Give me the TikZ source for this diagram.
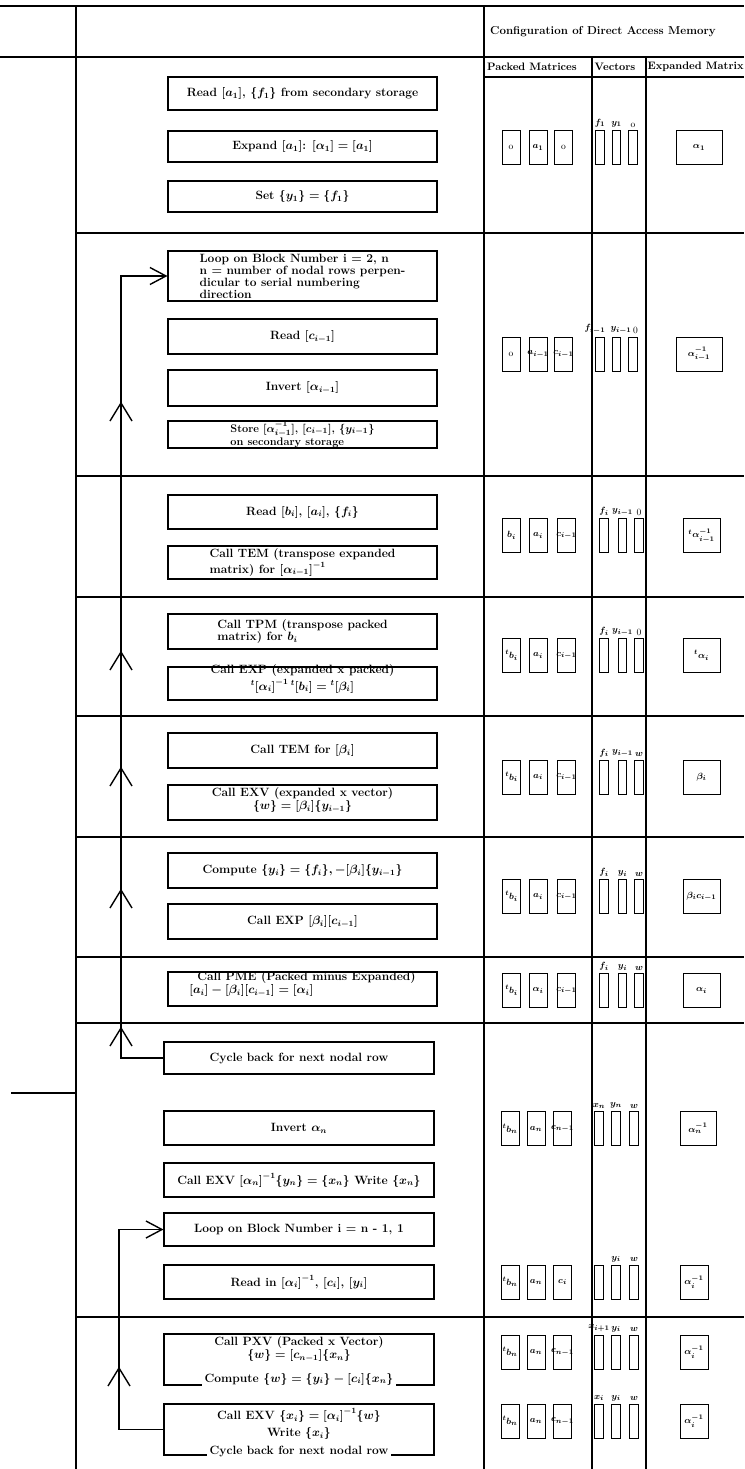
\documentclass[tikz,border=0pt]{standalone}
\usepackage{fontspec}
\usetikzlibrary{arrows.meta}
\newcommand{\bk}[1]{\bigl[#1\bigr]}
\newcommand{\bc}[1]{\bigl\{#1\bigr\}}
\newcommand{\zw}[1]{\makebox[0pt]{#1}}
\newcommand{\prow}[5]{%
  \node[pk] (#1a) at (\pxa,#2) {\zw{#3}};%
  \node[pk] (#1b) at (\pxb,#2) {\zw{#4}};%
  \node[pk] (#1c) at (\pxc,#2) {\zw{#5}};}
\newcommand{\vrow}[5]{%
  \node[vc] (#1d) at (\vxa,#2) {};%
  \node[vc] (#1e) at (\vxb,#2) {};%
  \node[vc] (#1f) at (\vxc,#2) {};%
  \node[vl] (#1g) at (#1d.north) {#3};%
  \node[vl] (#1h) at (#1e.north) {#4};%
  \node[vl] (#1i) at (#1f.north) {#5};}
\newcommand{\erow}[4]{\node[ex, minimum width=#3] (#1x) at (\exc,#2) {\zw{#4}};}
\newcommand{\fbx}[5]{\node[fb, minimum height=#4] (#1) at (#2,#3) {};%
  \node[tx] (#1t) at (#1.center) {#5};}
\begin{document}
\begin{tikzpicture}[x=1pt,y=-1pt,
  tl/.style={line width=1.3pt},
  lp/.style={line width=1.4pt},
  fb/.style={draw, line width=1.1pt, minimum width=\bw, inner sep=0pt},
  tx/.style={font=\bfseries\boldmath\fontsize{12}{12.5}\selectfont, align=center, inner sep=1pt},
  hd/.style={font=\bfseries\fontsize{10.8}{12}\selectfont, inner sep=0pt, anchor=west},
  pk/.style={draw, line width=1pt, minimum width=18pt, minimum height=34pt, inner sep=0pt, font=\boldmath\fontsize{9.5}{10}\selectfont},
  vc/.style={draw, line width=1pt, minimum width=8.5pt, minimum height=34pt, inner sep=0pt},
  vl/.style={anchor=south, yshift=2pt, inner sep=0.5pt, font=\boldmath\fontsize{9.5}{10}\selectfont},
  ex/.style={draw, line width=1pt, minimum height=34pt, inner sep=0pt, font=\boldmath\fontsize{9.5}{10}\selectfont},
  tip/.style={-{Straight Barb[length=16pt,width=17pt]}}
]
\fill[white] (0,0) rectangle (744,1469);
\useasboundingbox (0,0) rectangle (744,1469);
% table rules
\draw[tl] (0,6) -- (744,6);
\draw[tl] (0,57) -- (744,57);
\draw[tl] (484,77) -- (744,77);
\draw[tl] (76,6) -- (76,1469);
\draw[tl] (484,6) -- (484,1469);
\draw[tl] (592,57) -- (592,1469);
\draw[tl] (646,57) -- (646,1469);
\foreach \yy in {233,476,597,716,837,957,1023,1317} \draw[tl] (76,\yy) -- (744,\yy);
\draw[tl] (11,1093) -- (76,1093);
% headers
\node[hd, font=\bfseries\fontsize{11.5}{13}\selectfont] (h0) at (490,32) {Configuration of Direct Access Memory};
\node[hd] (h1) at (487,67) {Packed Matrices};
\node[hd] (h2) at (594.5,67) {Vectors};
\node[hd] (h3) at (647.5,67) {Expanded Matrix};
% flow boxes, upper part
\def\bw{269pt}
\fbx{b1}{302.5}{93.5}{33pt}{Read $\bk{a_1}$, $\bc{f_1}$ from secondary storage}
\fbx{b2}{302.5}{146.5}{31pt}{Expand $\bk{a_1}$: $\bk{\alpha_1} = \bk{a_1}$}
\fbx{b3}{302.5}{196.5}{31pt}{Set $\bc{y_1} = \bc{f_1}$}
\node[fb, minimum height=50pt] (loop1) at (302.5,276) {};
\node[tx, align=left, font=\bfseries\fontsize{12}{12}\selectfont] (loop1t) at (loop1.center) {Loop on Block Number i = 2, n\\n = number of nodal rows perpen-\\dicular to serial numbering\\direction};
\fbx{b5}{302.5}{336.5}{35pt}{Read $\bk{c_{i-1}}$}
\fbx{b6}{302.5}{388}{36pt}{Invert $\bk{\alpha_{i-1}}$}
\node[fb, minimum height=27pt] (b7) at (302.5,434.5) {};
\node[tx, align=left, font=\bfseries\boldmath\fontsize{11}{11.5}\selectfont] (b7t) at (b7.center) {Store $\bk{\alpha_{i-1}^{-1}}$, $\bk{c_{i-1}}$, $\bc{y_{i-1}}$\\on secondary storage};
\fbx{b8}{302.5}{512}{34pt}{Read $\bk{b_i}$, $\bk{a_i}$, $\bc{f_i}$}
\node[fb, minimum height=33pt] (b9) at (302.5,562.5) {};
\node[tx, align=left] (b9t) at (b9.center) {Call TEM (transpose expanded\\matrix) for $\bk{\alpha_{i-1}}^{-1}$};
\node[fb, minimum height=35pt] (b10) at (302.5,631.5) {};
\node[tx, align=left] (b10t) at (b10.center) {Call TPM (transpose packed\\matrix) for $b_i$};
\node[fb, minimum height=33pt] (b11) at (302.5,683.5) {};
\node[tx] (b11t) at (302.5,679) {Call EXP (expanded x packed)\\[1pt]${}^t\bk{\alpha_i}^{-1}\,{}^t\bk{b_i} = {}^t\bk{\beta_i}$};
\fbx{b12}{302.5}{750.5}{35pt}{Call TEM for $\bk{\beta_i}$}
\node[fb, minimum height=35pt] (b13) at (302.5,802.5) {};
\node[tx] (b13t) at (302.5,800) {Call EXV (expanded x vector)\\$\bc{w} = \bk{\beta_i}\bc{y_{i-1}}$};
\fbx{b14}{302.5}{870.5}{35pt}{Compute $\bc{y_i} = \bc{f_i}, - \bk{\beta_i}\bc{y_{i-1}}$}
\fbx{b15}{302.5}{921.5}{35pt}{Call EXP $\bk{\beta_i}\bk{c_{i-1}}$}
\node[fb, minimum height=34pt] (b16) at (302.5,989) {};
\node[tx, align=left] (b16t) at (302.5,984) {\hspace*{8pt}Call PME (Packed minus Expanded)\\$\bk{a_i} - \bk{\beta_i}\bk{c_{i-1}} = \bk{\alpha_i}$};
% flow boxes, lower part
\def\bw{270pt}
\fbx{cyc}{299}{1058}{32pt}{Cycle back for next nodal row}
\fbx{b18}{299}{1128}{34pt}{Invert $\alpha_n$}
\fbx{b19}{299}{1180}{34pt}{Call EXV $\bk{\alpha_n}^{-1}\bc{y_n} = \bc{x_n}$ Write $\bc{x_n}$}
\fbx{loop2}{299}{1229.5}{33pt}{Loop on Block Number i = n - 1, 1}
\fbx{b21}{299}{1282}{34pt}{Read in $\bk{\alpha_i}^{-1}$, $\bk{c_i}$, $\bk{y_i}$}
\node[fb, minimum height=51pt] (b22) at (299,1359.5) {};
\node[tx] (b22t) at (299,1349) {Call PXV (Packed x Vector)\\$\bc{w} = \bk{c_{n-1}}\bc{x_n}$};
\node[tx, fill=white, inner xsep=3pt, inner ysep=2pt] (b22c) at (299,1379) {Compute $\bc{w} = \bc{y_i} - \bk{c_i}\bc{x_n}$};
\node[fb, minimum height=51pt] (b23) at (299,1429.5) {};
\node[tx] (b23t) at (299,1424) {Call EXV $\bc{x_i} = \bk{\alpha_i}^{-1}\bc{w}$\\[5pt]Write $\bc{x_i}$};
\node[tx, fill=white, inner xsep=3pt, inner ysep=2pt] (b23c) at (299,1451) {Cycle back for next nodal row};
% loops
\coordinate (lx) at (121,0);
\coordinate (lx2) at (119,0);
\draw[lp, tip] (cyc.west) -- (cyc.west -| lx) -- (loop1.west -| lx) -- (loop1.west);
\draw[lp, tip] (b23.west) -- (b23.west -| lx2) -- (loop2.west -| lx2) -- (loop2.west);
\foreach \yy in {403,652,768,890,1028} \draw[lp] (110,{\yy+18}) -- (121,\yy) -- (132,{\yy+18});
\draw[lp] (108,1386) -- (119,1368) -- (130,1386);
% memory configuration, group A
\def\pxa{511}\def\pxb{538}\def\pxc{563.5}\def\vxa{600}\def\vxb{616.5}\def\vxc{633}\def\exc{699}
\prow{r1}{147.5}{o}{$a_1$}{o}
\vrow{r1}{147.5}{$f_1$}{$y_1$}{o}
\erow{r1}{147.5}{46pt}{$\alpha_1$}
\prow{r2}{354}{o}{$a_{i-1}$}{$c_{i-1}$}
\node[vc] (r2d) at (\vxa,354) {};
\node[vc] (r2e) at (\vxb,354) {};
\node[vc] (r2f) at (\vxc,354) {};
\node[vl, xshift=-5pt] (r2g) at (r2d.north) {$f_{i-1}$};
\node[vl, xshift=4.5pt] (r2h) at (r2e.north) {$y_{i-1}$};
\node[vl, xshift=2.5pt] (r2i) at (r2f.north) {0};
\erow{r2}{354}{46pt}{$\alpha_{i-1}^{-1}$}
% group B
\def\pxa{511.5}\def\pxb{538}\def\pxc{566.5}\def\vxa{604}\def\vxb{622.5}\def\vxc{639}\def\exc{701.5}
\prow{r3}{535.5}{$b_i$}{$a_i$}{$c_{i-1}$}
\vrow{r3}{535.5}{$f_i$}{$y_{i-1}$}{0}
\erow{r3}{535.5}{37pt}{${}^t\alpha_{i-1}^{-1}$}
\prow{r4}{655.5}{${}^tb_i$}{$a_i$}{$c_{i-1}$}
\vrow{r4}{655.5}{$f_i$}{$y_{i-1}$}{0}
\erow{r4}{655.5}{37pt}{${}^t\alpha_i$}
\prow{r5}{777}{${}^tb_i$}{$a_i$}{$c_{i-1}$}
\vrow{r5}{777}{$f_i$}{$y_{i-1}$}{$w$}
\erow{r5}{777}{37pt}{$\beta_i$}
\prow{r6}{896.5}{${}^tb_i$}{$a_i$}{$c_{i-1}$}
\vrow{r6}{896.5}{$f_i$}{$y_i$}{$w$}
\erow{r6}{896.5}{37pt}{$\beta_i c_{i-1}$}
\prow{r7}{990.5}{${}^tb_i$}{$\alpha_i$}{$c_{i-1}$}
\vrow{r7}{990.5}{$f_i$}{$y_i$}{$w$}
\erow{r7}{990.5}{37pt}{$\alpha_i$}
% group C
\def\pxa{510}\def\pxb{536}\def\pxc{562.5}\def\vxa{599}\def\vxb{616}\def\vxc{634}\def\exc{698}
\prow{r8}{1128.5}{${}^tb_n$}{$a_n$}{$c_{n-1}$}
\vrow{r8}{1128.5}{$x_n$}{$y_n$}{$w$}
\erow{r8}{1128.5}{36pt}{$\alpha_n^{-1}$}
\def\exc{694}
\prow{r9}{1282}{${}^tb_n$}{$a_n$}{$c_i$}
\vrow{r9}{1282}{}{$y_i$}{$w$}
\erow{r9}{1282}{28pt}{$\alpha_i^{-1}$}
\prow{r10}{1352}{${}^tb_n$}{$a_n$}{$c_{n-1}$}
\vrow{r10}{1352}{$x_{i+1}$}{$y_i$}{$w$}
\erow{r10}{1352}{28pt}{$\alpha_i^{-1}$}
\prow{r11}{1421}{${}^tb_n$}{$a_n$}{$c_{n-1}$}
\vrow{r11}{1421}{$x_i$}{$y_i$}{$w$}
\erow{r11}{1421}{28pt}{$\alpha_i^{-1}$}
\end{tikzpicture}
\end{document}
